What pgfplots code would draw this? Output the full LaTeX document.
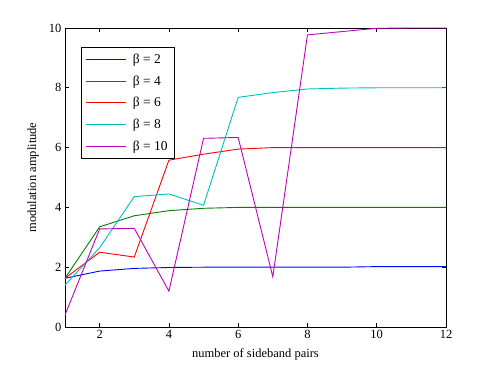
\documentclass[border=0pt]{standalone}
\usepackage{pgfplots}
\pgfplotsset{compat=1.18}
\usepackage{fontspec}
\setmainfont{Liberation Serif}
\definecolor{mblue}{rgb}{0,0,1}
\definecolor{mgreen}{rgb}{0,0.5,0}
\definecolor{mred}{rgb}{1,0,0}
\definecolor{mcyan}{rgb}{0,0.75,0.75}
\definecolor{mmag}{rgb}{0.75,0,0.75}
\begin{document}
\begin{tikzpicture}
\begin{axis}[
  at={(0,0)}, anchor=south west,
  scale only axis, width=381bp, height=299bp,
  xmin=1, xmax=12, ymin=0, ymax=10,
  xtick={2,4,6,8,10,12}, ytick={0,2,4,6,8,10},
  tick align=inside, major tick length=4bp,
  /pgf/number format/assume math mode=true,
  tick label style={font=\fontsize{12.5bp}{14bp}\selectfont},
  label style={font=\fontsize{12.5bp}{14bp}\selectfont},
  xlabel={number of sideband pairs},
  ylabel={modulation amplitude},
  xlabel style={at={(axis description cs:0.5,-0.091)}, anchor=center},
  ylabel style={at={(axis description cs:-0.084,0.5)}, anchor=center},
  axis line style={black, line width=0.8bp},
  every tick/.style={black, line width=0.8bp},
  legend style={at={(0.041,0.935)}, anchor=north west, draw=black, line width=0.8bp,
    font=\fontsize{13.5bp}{15bp}\selectfont, row sep=6.8bp, inner xsep=5bp, inner ysep=4bp,
    /tikz/every odd column/.append style={column sep=4bp}},
  legend cell align=left,
  legend image code/.code={\draw[mark repeat=2,mark phase=2,line width=0.9bp,#1] plot coordinates {(0bp,0bp) (20bp,0bp) (40bp,0bp)};},
  every axis plot/.append style={line width=0.9bp},
]
\addplot[mblue] coordinates {(1,1.63) (2,1.87) (3,1.96) (4,1.99) (5,2.0) (6,2.0) (7,2.0) (8,2.0) (9,2.0) (10,2.02) (11,2.02) (12,2.02)};
\addplot[mgreen] coordinates {(1,1.63) (2,3.35) (3,3.72) (4,3.89) (5,3.97) (6,4.0) (7,4.0) (8,4.0) (9,4.0) (10,4.0) (11,4.0) (12,4.0)};
\addplot[mred] coordinates {(1,1.63) (2,2.50) (3,2.34) (4,5.58) (5,5.78) (6,5.95) (7,6.0) (8,6.0) (9,6.0) (10,6.0) (11,6.0) (12,6.0)};
\addplot[mcyan] coordinates {(1,1.40) (2,2.65) (3,4.36) (4,4.45) (5,4.07) (6,7.68) (7,7.84) (8,7.96) (9,7.99) (10,8.0) (11,8.0) (12,8.0)};
\addplot[mmag] coordinates {(1,0.40) (2,3.28) (3,3.30) (4,1.20) (5,6.31) (6,6.34) (7,1.68) (8,9.77) (9,9.88) (10,9.99) (11,10.0) (12,10.0)};
\legend{β = 2, β = 4, β = 6, β = 8, β = 10}
\end{axis}
\path (-65bp,-42bp) rectangle (428bp,327bp);
\end{tikzpicture}
\end{document}
